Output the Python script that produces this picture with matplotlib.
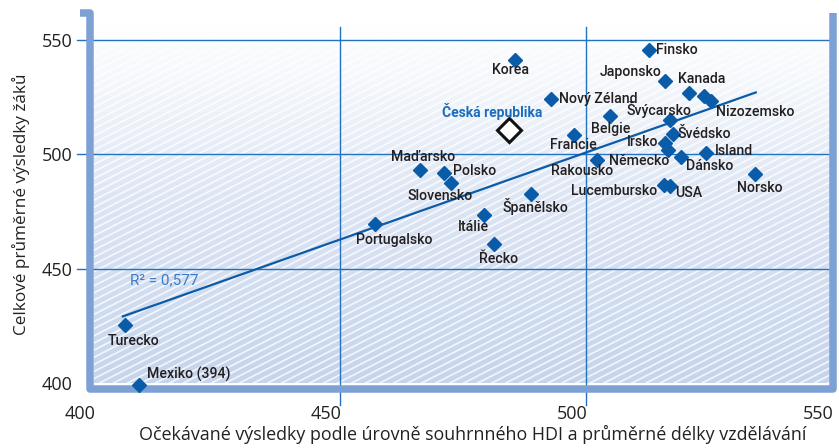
import matplotlib
matplotlib.use("Agg")
import matplotlib.pyplot as plt
import matplotlib.transforms as mtransforms
from matplotlib.colors import LinearSegmentedColormap
from matplotlib.lines import Line2D
import numpy as np

# expected score (x) vs. real score (y)
countries = ["Finsko", "Korea", "Japonsko", "Kanada", "", "Nizozemsko", "Nový Zéland",
             "Belgie", "Švýcarsko", "Švédsko", "Francie", "Irsko", "Německo", "Dánsko",
             "Island", "Rakousko", "Maďarsko", "Polsko", "Slovensko", "Norsko",
             "Lucembursko", "USA", "Španělsko", "Itálie", "Řecko", "Portugalsko",
             "Turecko", "Mexiko (394)"]
expected = [512.8, 485.5, 516.1, 521.0, 523.9, 525.4, 492.8,
            504.8, 517.0, 517.6, 497.6, 516.1, 516.7, 519.3,
            524.4, 502.2, 466.2, 471.2, 472.5, 534.3,
            515.8, 517.1, 488.7, 479.2, 481.3, 457.0,
            406.2, 409.1]
actual = [545.5, 541.1, 531.7, 526.6, 525.5, 523.3, 524.1,
          516.7, 514.7, 508.8, 508.4, 504.7, 501.8, 498.6,
          500.6, 497.3, 492.9, 491.9, 487.5, 491.4,
          486.5, 486.1, 482.6, 473.3, 460.6, 469.6,
          425.2, 399.0]

cz_name = "Česká republika"
cz_x, cz_y = 484.3, 510.6

fit_x = [405.8, 534.5]
fit_y = [429.1, 526.9]
r2_text = "R² = 0,577"

xticks = [400, 450, 500, 550]
yticks = [400, 450, 500, 550]

# label placement in pixels: (dx, dy, ha)
label_pos = {
    "Finsko": (7, 0, "left"), "Korea": (-4, -10, "center"),
    "Japonsko": (-4, 9, "right"), "Kanada": (12, 14, "center"),
    "Nizozemsko": (5, -11, "left"), "Nový Zéland": (8, 0, "left"),
    "Belgie": (1, -13, "center"), "Švýcarsko": (-11, 11, "center"),
    "Švédsko": (5, 0, "left"), "Francie": (-1, -10, "center"),
    "Irsko": (-7, 1, "right"), "Německo": (1, -11, "right"),
    "Dánsko": (5, -9, "left"), "Island": (9, 2, "left"),
    "Rakousko": (-15, -11, "center"), "Maďarsko": (3, 13, "center"),
    "Polsko": (9, 2, "left"), "Slovensko": (-11, -13, "center"),
    "Norsko": (5, -14, "center"), "Lucembursko": (-7, -6, "right"),
    "USA": (5, -7, "left"), "Španělsko": (5, -13, "center"),
    "Itálie": (-10, -12, "center"), "Řecko": (4, -15, "center"),
    "Portugalsko": (20, -16, "center"), "Turecko": (9, -16, "center"),
    "Mexiko (394)": (8, 11, "left"),
}

W, H = 839, 448
fig = plt.figure(figsize=(W / 100, H / 100), dpi=100)
ax = fig.add_axes([94.3 / W, 65 / H, 737.7 / W, 357.2 / H])
ax.set_xlim(400, 550)
ax.set_ylim(400, 556)

blue = "#0a5ca8"
grid_c = "#2173c2"
frame_c = "#7da0d5"
label_font = ["Roboto", "DejaVu Sans"]
axis_font = ["Open Sans", "DejaVu Sans"]

# background gradient + streaks (white at top, light blue at bottom)
cmap = LinearSegmentedColormap.from_list("bg", ["#ffffff", "#dce5f4", "#c6d4ec"])
grad = np.linspace(0, 1, 256).reshape(-1, 1)
ax.imshow(grad, extent=[0, 1, 0, 1], origin="upper", transform=ax.transAxes,
          cmap=cmap, aspect="auto", zorder=0)
slope = np.tan(np.radians(27)) * 737.7 / 357.2
for c in np.arange(-1.0, 1.05, 0.019):
    ax.plot([c, c + 1.2], [0, 1.2 * slope], color="white", lw=1.3, alpha=0.75,
            transform=ax.transAxes, zorder=0.5)

for s in ax.spines.values():
    s.set_visible(False)

# gridlines extending outside the plot box
for yv in [450, 500, 550]:
    ax.plot([396.5, 550], [yv, yv], color=grid_c, lw=1.0, clip_on=False, zorder=1)
for xv in [450, 500]:
    ax.plot([xv, xv], [390.4, 555.6], color=grid_c, lw=1.0, clip_on=False, zorder=1)

# bracket-like frame (figure pixels)
fx = np.array([80, 90, 90, 833, 833]) / W
fy = 1 - np.array([13, 13, 389, 389, 13]) / H
frame = Line2D(fx, fy, color=frame_c, lw=5.4, solid_joinstyle="round",
               solid_capstyle="butt", transform=fig.transFigure, clip_on=False,
               zorder=1.5)
ax.add_line(frame)

# regression line
ax.plot(fit_x, fit_y, color=blue, lw=1.6, zorder=2)
ax.text(407.3, 445, r2_text, color="#3b7cc9", fontsize=11, family=label_font,
        va="center", ha="left", zorder=3)

# points
ax.plot(expected, actual, "D", color=blue, ms=7, ls="none", clip_on=False, zorder=4)
ax.plot([cz_x], [cz_y], "D", mfc="white", mec="#111111", mew=2.2, ms=12, zorder=4)
ax.annotate(cz_name, (cz_x, cz_y), xytext=(-17, 18), textcoords="offset pixels",
            ha="center", va="center", color="#1a6dbf", fontsize=10,
            fontweight="bold", family=label_font, zorder=5)

for name, xv, yv in zip(countries, expected, actual):
    if not name:
        continue
    dx, dy, ha = label_pos[name]
    ax.annotate(name, (xv, yv), xytext=(dx, dy), textcoords="offset pixels",
                ha=ha, va="center", color="#231f20", fontsize=10.2,
                fontweight="medium", family=label_font, zorder=5,
                annotation_clip=False)

# ticks
ax.set_xticks(xticks)
ax.set_yticks(yticks)
ax.tick_params(length=0, labelsize=13, colors="#222222")
ax.tick_params(axis="y", pad=16)
ax.tick_params(axis="x", pad=16)
for lab in ax.get_xticklabels() + ax.get_yticklabels():
    lab.set_family(axis_font)
off = mtransforms.ScaledTranslation(-14 / 100, 0, fig.dpi_scale_trans)
for lab in ax.get_xticklabels():
    lab.set_transform(lab.get_transform() + off)

ax.set_xlabel("Očekávané výsledky podle úrovně souhrnného HDI a průměrné délky vzdělávání",
              fontsize=12.9, family=axis_font, color="#222222")
ax.xaxis.set_label_coords(0.513, -0.118)
ax.set_ylabel("Celkové průměrné výsledky žáků", fontsize=12.3, family=axis_font,
              color="#222222", labelpad=8)

fig.savefig("out.png", dpi=100)
